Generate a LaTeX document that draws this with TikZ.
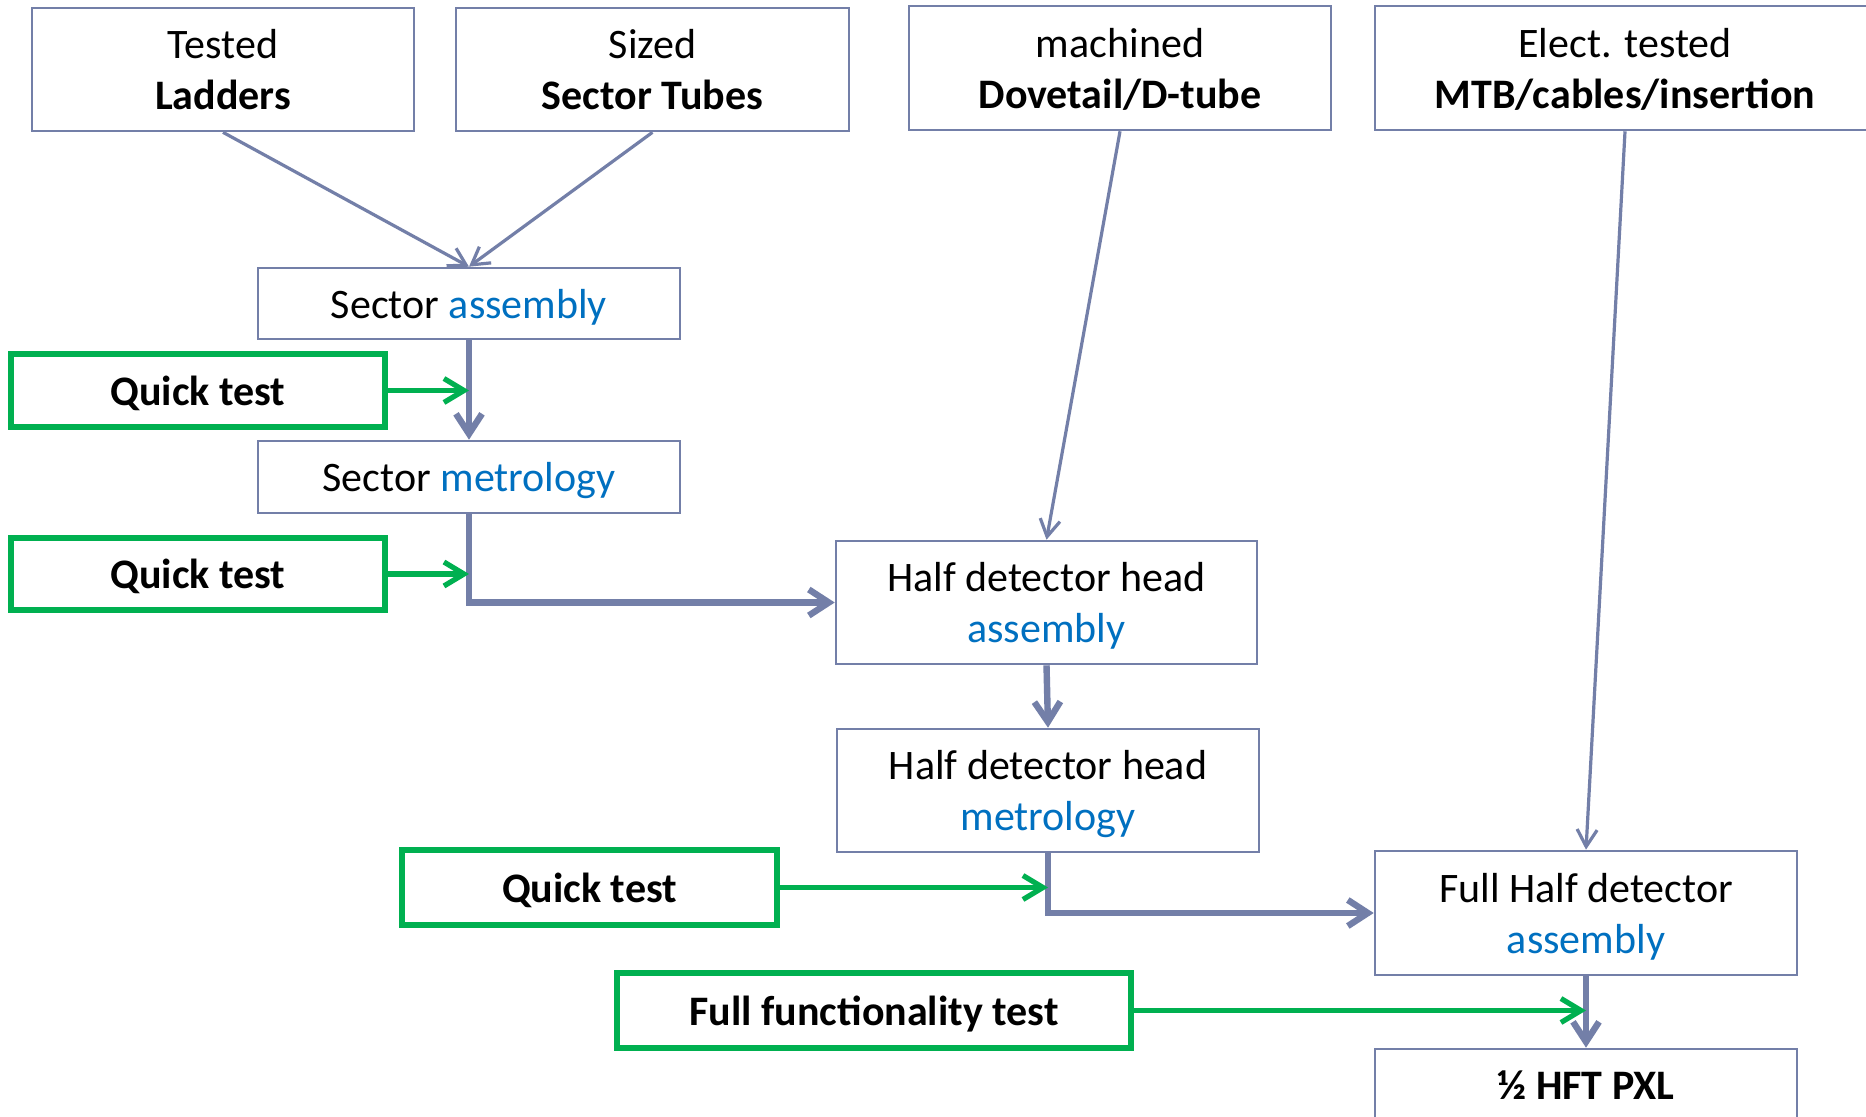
\documentclass[tikz,border=0pt]{standalone}
\usepackage{fontspec}
\setmainfont{Carlito}
\usetikzlibrary{arrows.meta,calc}
\definecolor{flowline}{RGB}{115,127,168}
\definecolor{testgreen}{RGB}{0,176,80}
\definecolor{stageblue}{RGB}{0,112,192}
\newcommand{\hl}[1]{\textcolor{stageblue}{#1}}

\begin{document}
\begin{tikzpicture}[x=0.5pt,y=-0.5pt,
  stage/.style={draw=flowline, line width=1.3pt, fill=white, inner sep=0pt,
    align=center, text depth=0pt, font=\fontsize{21}{25.5}\selectfont},
  testbox/.style={draw=testgreen, line width=2.7pt, fill=white, inner sep=0pt,
    text depth=0pt, font=\fontsize{21}{25.5}\selectfont\bfseries},
  feed/.style={draw=flowline, line width=1.6pt,
    -{Straight Barb[length=8.5pt,width=10pt]}},
  flow/.style={draw=flowline, line width=3.2pt,
    -{Straight Barb[length=10pt,width=13pt]}},
  check/.style={draw=testgreen, line width=2.6pt,
    -{Straight Barb[length=10pt,width=12pt]}},
]
\useasboundingbox (0,0) rectangle (1866,1117);
\clip (0,0) rectangle (1866,1117);
\fill[white] (0,0) rectangle (1866,1117);

% incoming components
\node[stage, minimum width=191pt, minimum height=61.5pt] (lad) at (223,69.5)
  {Tested\\\textbf{Ladders}};
\node[stage, minimum width=196.5pt, minimum height=61.5pt] (tub) at (652.5,69.5)
  {Sized\\\textbf{Sector Tubes}};
\node[stage, minimum width=211pt, minimum height=62pt] (dov) at (1120,68)
  {machined\\\textbf{Dovetail/D-tube}};
\node[stage, minimum width=250pt, minimum height=62pt] (mtb) at (1625,68)
  {Elect. tested\\\textbf{MTB/cables/insertion}};

% sector stages
\node[stage, minimum width=211pt, minimum height=35.5pt] (sa) at (469,303.5)
  {Sector \hl{assembly}};
\node[stage, minimum width=211pt, minimum height=36pt] (sm) at (469,477)
  {Sector \hl{metrology}};

% half detector stages
\node[stage, minimum width=210.5pt, minimum height=61.5pt] (hda) at (1046.5,602.5)
  {Half detector head\\\hl{assembly}};
\node[stage, minimum width=211pt, minimum height=61.5pt] (hdm) at (1048,790.5)
  {Half detector head\\\hl{metrology}};
\node[stage, minimum width=211pt, minimum height=62pt] (fhd) at (1586,913)
  {Full Half detector\\\hl{assembly}};
\node[stage, minimum width=211pt, minimum height=62pt] (pxl) at (1586,1111)
  {\textbf{½ HFT PXL}\\\mbox{}};

% tests
\node[testbox, minimum width=187pt, minimum height=36.5pt] (qt1) at (198,390.5) {Quick test};
\node[testbox, minimum width=187pt, minimum height=36pt] (qt2) at (198,574) {Quick test};
\node[testbox, minimum width=187.5pt, minimum height=37.5pt] (qt3) at (589.5,887.5) {Quick test};
\node[testbox, minimum width=257pt, minimum height=37.5pt] (fft) at (874,1010.5) {Full functionality test};

% feeds from components
\draw[feed] (lad.south) -- (sa.north);
\draw[feed] (tub.south) -- (sa.north);
\draw[feed] (dov.south) -- (hda.north);
\draw[feed] (mtb.south) -- (fhd.north);

% main flow
\draw[flow] (sa.south) -- (sm.north);
\draw[flow] (sm.south) |- (hda.west);
\draw[flow] (hda.south) -- (hdm.north);
\draw[flow] (hdm.south) |- (fhd.west);
\draw[flow] (fhd.south) -- (pxl.north);

% test inputs
\draw[check] (qt1.east) -- (qt1.east -| sa.south);
\draw[check] (qt2.east) -- (qt2.east -| sm.south);
\draw[check] (qt3.east) -- (qt3.east -| hdm.south);
\draw[check] (fft.east) -- (fft.east -| fhd.south);
\end{tikzpicture}
\end{document}
